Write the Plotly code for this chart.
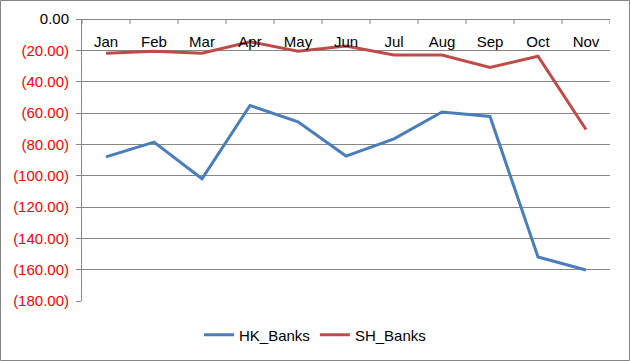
import plotly.graph_objects as go

months = ['Jan', 'Feb', 'Mar', 'Apr', 'May', 'Jun', 'Jul', 'Aug', 'Sep', 'Oct', 'Nov']
hk_banks = [-88.0, -78.6, -102.0, -55.2, -65.6, -87.5, -76.5, -59.4, -62.2, -151.9, -160.2]
sh_banks = [-21.9, -20.6, -21.9, -14.5, -20.6, -17.3, -23.0, -23.0, -30.9, -23.8, -70.5]

y_vals = [0, -20, -40, -60, -80, -100, -120, -140, -160, -180]
y_text = ['0.00'] + ["<span style='color:#ff0000'>(%.2f)</span>" % abs(v) for v in y_vals[1:]]

fig = go.Figure()
fig.add_trace(go.Scatter(x=months, y=hk_banks, mode='lines', name='HK_Banks',
                         line=dict(color='#4A7EBB', width=3)))
fig.add_trace(go.Scatter(x=months, y=sh_banks, mode='lines', name='SH_Banks',
                         line=dict(color='#BE4B48', width=3)))

W, H = 630, 361
L, R, T, B = 82, 20, 19, 60
pw, ph = W - L - R, H - T - B

# small tick marks at the category boundaries, hanging under the top axis line
tick_units = 5 * 180 / ph
tx, ty = [], []
for i in range(len(months) + 1):
    tx += [i - 0.5, i - 0.5, None]
    ty += [0, -tick_units, None]
fig.add_trace(go.Scatter(x=tx, y=ty, xaxis='x2', mode='lines', showlegend=False,
                         hoverinfo='skip', line=dict(color='#868686', width=1)))

fig.update_layout(
    width=W, height=H,
    margin=dict(l=L, r=R, t=T, b=B, autoexpand=False),
    paper_bgcolor='white', plot_bgcolor='white',
    font=dict(family='Liberation Sans', size=15, color='black'),
    showlegend=True,
    legend=dict(orientation='h', xref='container', x=0.5, xanchor='center',
                yref='container', y=26 / H, yanchor='middle', font=dict(size=15)),
    xaxis=dict(side='bottom', anchor='free', position=1, automargin=False,
               ticks='', ticklabelstandoff=9, showline=True, linecolor='#868686', linewidth=1,
               showgrid=False, range=[-0.5, 10.5]),
    xaxis2=dict(overlaying='x', range=[-0.5, 10.5], visible=False),
    yaxis=dict(range=[-180, 0], tickvals=y_vals, ticktext=y_text, automargin=False,
               ticks='outside', ticklen=5, tickcolor='#868686', ticklabelstandoff=4,
               showline=True, linecolor='#868686', linewidth=1,
               showgrid=True, gridcolor='#868686', gridwidth=1,
               zeroline=False, tickfont=dict(size=15, color='black')),
    shapes=[dict(type='rect', xref='paper', yref='paper',
                 x0=(0.5 - L) / pw, x1=(W - 0.5 - L) / pw,
                 y0=-(H - 0.5 - T - ph) / ph, y1=1 + (T - 0.5) / ph,
                 line=dict(color='#868686', width=1), layer='below')],
)

# drop the default 8px page margin so the figure sits at the window origin
fig.write_html('out.html', config={'displayModeBar': False},
               post_script="document.body.style.margin='0';document.body.style.overflow='hidden';")
